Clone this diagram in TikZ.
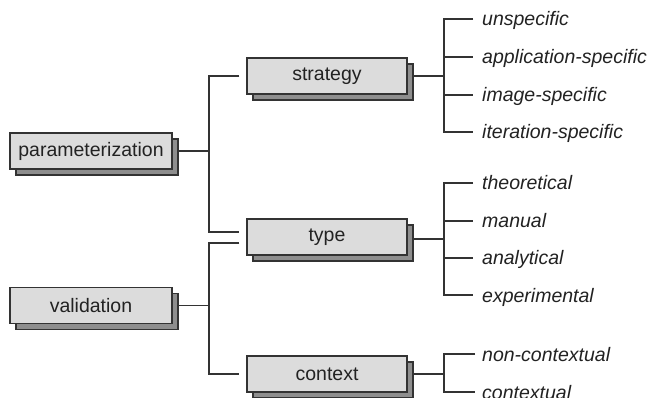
\documentclass[tikz,border=0pt]{standalone}
\usepackage{fontspec}
\setmainfont{Liberation Sans}
\usetikzlibrary{shadows,calc}
\definecolor{boxfill}{HTML}{DCDCDC}
\definecolor{shadefill}{HTML}{8E8E8E}
\definecolor{ink}{HTML}{333333}
\definecolor{txt}{HTML}{222222}
\tikzset{
  cat/.style={draw=ink, line width=1.5pt, fill=boxfill, text=txt,
    minimum height=36pt, inner sep=0pt,
    font=\fontsize{19.5}{22}\selectfont,
    drop shadow={shadow xshift=6pt, shadow yshift=-6pt, fill=shadefill,
      draw=ink, line width=1.5pt, opacity=1}},
  leaf/.style={anchor=west, inner sep=0pt, text=txt,
    text height=17pt, text depth=3pt,
    font=\fontsize{19.5}{22}\selectfont\itshape},
  wire/.style={draw=ink, line width=1.5pt}
}
\begin{document}
\begin{tikzpicture}[x=1pt,y=-1pt]
\useasboundingbox[fill=white] (0,0) rectangle (651,398);

% left-hand categories
\node[cat, minimum width=162pt] (param) at (91,151) {parameterization};
\node[cat, minimum width=162pt] (valid) at (91,305.5) {validation};

% middle categories
\node[cat, minimum width=160pt] (strategy) at (327,76) {strategy};
\node[cat, minimum width=160pt] (type) at (327,237) {type};
\node[cat, minimum width=160pt] (context) at (327,374) {context};

% leaves
\node[leaf] (s1) at (482,19) {unspecific};
\node[leaf] (s2) at (482,57) {application-specific};
\node[leaf] (s3) at (482,95) {image-specific};
\node[leaf] (s4) at (482,132) {iteration-specific};

\node[leaf] (t1) at (482,183) {theoretical};
\node[leaf] (t2) at (482,221) {manual};
\node[leaf] (t3) at (482,258) {analytical};
\node[leaf] (t4) at (482,295) {experimental};

\node[leaf] (c1) at (482,354) {non-contextual};
\node[leaf] (c2) at (482,392) {contextual};

% junction points
\coordinate (pj) at (209,151);
\coordinate (vj) at (209,305.5);
\coordinate (sj) at (444,76);
\coordinate (tj) at (444,239);
\coordinate (cj) at (444,374);

% parameterization -> strategy, type
\draw[wire] ([xshift=6pt]param.east) -- (pj);
\draw[wire] ([xshift=-7pt]strategy.west) -| (pj) |- ([xshift=-7pt,yshift=5pt]type.west);

% validation -> type, context
\draw[wire] ([xshift=6pt]valid.east) -- (vj);
\draw[wire] ([xshift=-7pt,yshift=-6pt]type.west) -| (vj) |- ([xshift=-7pt]context.west);

% strategy -> leaves
\draw[wire] ([xshift=6pt]strategy.east) -- (sj);
\draw[wire] ([xshift=-9pt]s1.west) -| (sj) |- ([xshift=-9pt]s4.west);
\draw[wire] (sj |- s2.west) -- ([xshift=-9pt]s2.west);
\draw[wire] (sj |- s3.west) -- ([xshift=-9pt]s3.west);

% type -> leaves
\draw[wire] ([xshift=6pt,yshift=-2pt]type.east) -- (tj);
\draw[wire] ([xshift=-9pt]t1.west) -| (tj) |- ([xshift=-9pt]t4.west);
\draw[wire] (tj |- t2.west) -- ([xshift=-9pt]t2.west);
\draw[wire] (tj |- t3.west) -- ([xshift=-9pt]t3.west);

% context -> leaves
\draw[wire] ([xshift=6pt]context.east) -- (cj);
\draw[wire] ([xshift=-7pt]c1.west) -| (cj) |- ([xshift=-7pt]c2.west);
\end{tikzpicture}
\end{document}
